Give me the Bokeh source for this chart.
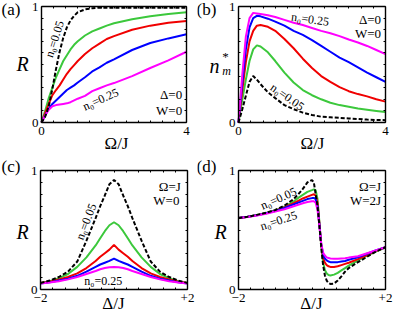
from bokeh.plotting import figure
from bokeh.models import Range1d, FixedTicker, LinearAxis, Label
from bokeh.layouts import gridplot
from bokeh.embed import file_html
from bokeh.resources import INLINE

FONT = "Liberation Serif, DejaVu Serif, serif"

# ---------------- data ----------------
omega_a = [0, 0.1, 0.2, 0.3, 0.4, 0.5, 0.6, 0.7, 0.8, 0.9, 1.0, 1.2, 1.4, 1.6, 1.8, 2.0, 2.5, 3.0, 3.5, 4.0]
R_a_black = [0, 0.05, 0.14, 0.29, 0.46, 0.61, 0.73, 0.82, 0.88, 0.92, 0.95, 0.975, 0.985, 0.99, 0.99, 0.99, 0.99, 0.99, 0.99, 0.99]
R_a_green = [0, 0.10, 0.21, 0.30, 0.39, 0.46, 0.53, 0.58, 0.63, 0.67, 0.70, 0.75, 0.785, 0.81, 0.835, 0.855, 0.89, 0.915, 0.935, 0.95]
R_a_red = [0, 0.08, 0.16, 0.235, 0.28, 0.32, 0.37, 0.42, 0.46, 0.495, 0.53, 0.59, 0.64, 0.68, 0.72, 0.745, 0.80, 0.835, 0.86, 0.875]
R_a_blue = [0, 0.06, 0.12, 0.16, 0.19, 0.22, 0.25, 0.28, 0.30, 0.32, 0.345, 0.39, 0.44, 0.475, 0.515, 0.545, 0.625, 0.685, 0.725, 0.76]
R_a_magenta = [0, 0.06, 0.11, 0.14, 0.15, 0.155, 0.16, 0.165, 0.175, 0.19, 0.205, 0.23, 0.27, 0.295, 0.32, 0.34, 0.40, 0.47, 0.535, 0.61]

omega_b = [0, 0.1, 0.2, 0.3, 0.4, 0.5, 0.6, 0.8, 1.0, 1.25, 1.5, 1.75, 2.0, 2.25, 2.5, 2.75, 3.0, 3.25, 3.5, 3.75, 4.0]
nm_b_black = [0, 0.11, 0.23, 0.35, 0.40, 0.37, 0.33, 0.26, 0.21, 0.15, 0.115, 0.085, 0.065, 0.05, 0.045, 0.04, 0.035, 0.03, 0.025, 0.022, 0.02]
nm_b_green = [0, 0.19, 0.37, 0.53, 0.63, 0.665, 0.655, 0.605, 0.53, 0.43, 0.345, 0.28, 0.235, 0.20, 0.17, 0.15, 0.135, 0.12, 0.11, 0.10, 0.09]
nm_b_red = [0, 0.27, 0.52, 0.70, 0.79, 0.835, 0.84, 0.825, 0.79, 0.72, 0.64, 0.55, 0.47, 0.40, 0.35, 0.305, 0.27, 0.245, 0.225, 0.20, 0.18]
nm_b_blue = [0, 0.33, 0.63, 0.82, 0.90, 0.92, 0.915, 0.895, 0.87, 0.835, 0.79, 0.755, 0.71, 0.66, 0.61, 0.56, 0.52, 0.475, 0.43, 0.39, 0.35]
nm_b_magenta = [0, 0.40, 0.74, 0.90, 0.945, 0.94, 0.935, 0.925, 0.91, 0.885, 0.86, 0.84, 0.815, 0.79, 0.77, 0.745, 0.715, 0.69, 0.66, 0.625, 0.59]

delta_c = [-2, -1.75, -1.5, -1.25, -1, -0.75, -0.5, -0.375, -0.25, -0.125, 0,
           0.125, 0.25, 0.375, 0.5, 0.75, 1, 1.25, 1.5, 1.75, 2]
R_c_black = [0.055, 0.075, 0.105, 0.15, 0.235, 0.41, 0.60, 0.70, 0.79, 0.885, 0.92,
             0.885, 0.79, 0.70, 0.60, 0.41, 0.235, 0.15, 0.105, 0.075, 0.055]
R_c_green = [0.055, 0.07, 0.095, 0.13, 0.19, 0.27, 0.37, 0.43, 0.49, 0.54, 0.565,
             0.54, 0.49, 0.43, 0.37, 0.27, 0.19, 0.13, 0.095, 0.07, 0.055]
R_c_red = [0.055, 0.065, 0.085, 0.105, 0.135, 0.18, 0.24, 0.275, 0.305, 0.335, 0.375,
           0.335, 0.305, 0.275, 0.24, 0.18, 0.135, 0.105, 0.085, 0.065, 0.055]
R_c_blue = [0.05, 0.06, 0.075, 0.09, 0.115, 0.15, 0.19, 0.21, 0.225, 0.24, 0.26,
            0.24, 0.225, 0.21, 0.19, 0.15, 0.115, 0.09, 0.075, 0.06, 0.05]
R_c_magenta = [0.05, 0.058, 0.07, 0.085, 0.105, 0.13, 0.155, 0.17, 0.18, 0.187, 0.19,
               0.187, 0.18, 0.17, 0.155, 0.13, 0.105, 0.085, 0.07, 0.058, 0.05]

delta_d = [-2, -1.75, -1.5, -1.25, -1, -0.75, -0.5, -0.375, -0.25, -0.125, 0, 0.05, 0.1, 0.15, 0.2,
           0.25, 0.3, 0.35, 0.4, 0.45, 0.5, 0.6, 0.7, 0.8, 0.9, 1.0, 1.25, 1.5, 1.75, 2.0]
R_d_black = [0.60, 0.612, 0.627, 0.645, 0.668, 0.705, 0.76, 0.80, 0.845, 0.90, 0.92, 0.90, 0.80, 0.70, 0.54,
             0.36, 0.21, 0.12, 0.075, 0.055, 0.047, 0.05, 0.075, 0.11, 0.15, 0.18, 0.23, 0.275, 0.32, 0.355]
R_d_green = [0.60, 0.612, 0.626, 0.643, 0.665, 0.695, 0.74, 0.77, 0.795, 0.82, 0.835, 0.842, 0.835, 0.76, 0.57,
             0.37, 0.23, 0.165, 0.135, 0.122, 0.118, 0.125, 0.14, 0.16, 0.18, 0.20, 0.245, 0.285, 0.32, 0.355]
R_d_red = [0.60, 0.612, 0.625, 0.642, 0.663, 0.69, 0.725, 0.745, 0.765, 0.78, 0.795, 0.80, 0.79, 0.73, 0.56,
           0.38, 0.27, 0.225, 0.205, 0.195, 0.19, 0.19, 0.195, 0.205, 0.215, 0.225, 0.255, 0.29, 0.325, 0.355]
R_d_blue = [0.60, 0.611, 0.623, 0.64, 0.66, 0.685, 0.715, 0.73, 0.745, 0.76, 0.768, 0.77, 0.76, 0.70, 0.55,
            0.385, 0.30, 0.26, 0.245, 0.235, 0.23, 0.228, 0.23, 0.235, 0.24, 0.25, 0.27, 0.30, 0.33, 0.355]
R_d_magenta = [0.60, 0.61, 0.621, 0.637, 0.655, 0.675, 0.70, 0.712, 0.725, 0.735, 0.742, 0.742, 0.73, 0.67, 0.54,
               0.39, 0.31, 0.285, 0.27, 0.265, 0.26, 0.258, 0.258, 0.26, 0.262, 0.268, 0.28, 0.305, 0.33, 0.355]

y_ticks = [0, 1]
y_minor = [0.1, 0.2, 0.3, 0.4, 0.5, 0.6, 0.7, 0.8, 0.9]
omega_ticks = [0, 4]
omega_minor = [1/3, 2/3, 1, 4/3, 5/3, 2, 7/3, 8/3, 3, 10/3, 11/3]
delta_ticks = [-2, 2]
delta_minor = [-5/3, -4/3, -1, -2/3, -1/3, 0, 1/3, 2/3, 1, 4/3, 5/3]
delta_tick_labels = {-2: "−2", 2: "+2"}

GREEN = "#3cc83c"
RED = "#f00000"
BLUE = "#0000ff"
MAGENTA = "#ff00ff"
BLACK = "#000000"


class Panel:
    """A figure whose plotting area is the whole canvas; the data box sits inside it."""

    def __init__(self, W, H, ox, oy, fl, fr, ft, fb, xlo, xhi, xticks, xminor, xover=None):
        self.ox, self.oy = ox, oy
        self.fl, self.fb = fl, fb
        self.xlo = xlo
        self.sx = (fr - fl) / (xhi - xlo)
        self.sy = (fb - ft)
        x0 = xlo - (fl - ox) / self.sx
        x1 = xhi + (ox + W - fr) / self.sx
        y0 = -(oy + H - fb) / self.sy
        y1 = 1 + (ft - oy) / self.sy
        p = figure(width=W, height=H, frame_width=W, frame_height=H,
                   x_range=Range1d(x0, x1), y_range=Range1d(y0, y1),
                   output_backend="svg", toolbar_location=None,
                   x_axis_type=None, y_axis_type=None, min_border=0)
        p.outline_line_color = None
        p.background_fill_color = "white"
        p.border_fill_color = "white"
        self.p = p
        self.axis("below", 0, (xlo, xhi), xticks, xminor, True, xover)
        self.axis("above", 1, (xlo, xhi), xticks, xminor, False)
        self.axis("left", xlo, (0, 1), y_ticks, y_minor, True)
        self.axis("right", xhi, (0, 1), y_ticks, y_minor, False)

    def axis(self, side, loc, bounds, ticks, minor, show, over=None):
        a = LinearAxis(ticker=FixedTicker(ticks=ticks, minor_ticks=minor),
                       fixed_location=loc, bounds=bounds,
                       major_label_text_font=FONT, major_label_text_font_size="13px",
                       major_label_text_color="black" if show else None,
                       major_label_standoff=4 if side == "below" else 3,
                       axis_line_color="black", axis_line_width=1.4,
                       major_tick_in=4, major_tick_out=0, minor_tick_in=2, minor_tick_out=0,
                       major_tick_line_color="black", minor_tick_line_color="black",
                       major_tick_line_width=1, minor_tick_line_width=1)
        if over:
            a.major_label_overrides = over
        self.p.add_layout(a, side)

    def curves(self, x, ys):
        for y, c in zip(ys[1:], [GREEN, RED, BLUE, MAGENTA]):
            self.p.line(x, y, line_color=c, line_width=2)
        self.p.line(x, ys[0], line_color=BLACK, line_width=2, line_dash="4 2")

    def text(self, px, py, text, size, align="center", style="normal", angle=0):
        # px, py: page pixels of the reference
        x = self.xlo + (px - self.fl) / self.sx
        y = (self.fb - py) / self.sy
        self.p.add_layout(Label(x=x, y=y, text=text, text_font=FONT, text_font_size=f"{size}px",
                                text_align=align, text_baseline="middle", text_font_style=style,
                                angle=angle, angle_units="deg", text_color="black"))

    def dtext(self, x, y, text, size, align="center", angle=0):
        self.p.add_layout(Label(x=x, y=y, text=text, text_font=FONT, text_font_size=f"{size}px",
                                text_align=align, text_baseline="middle",
                                angle=angle, angle_units="deg", text_color="black"))


# ---- (a)
A = Panel(197, 158, 0, 0, 41, 186, 6, 122, 0, 4, omega_ticks, omega_minor)
A.curves(omega_a, [R_a_black, R_a_green, R_a_red, R_a_blue, R_a_magenta])
A.text(1, 9, "(a)", 17, align="left")
A.text(22, 63, "R", 20, style="italic")
A.text(116, 143, "Ω/J", 17)
A.dtext(0.36, 0.72, "n₀=0.05", 12, angle=72)
A.dtext(1.63, 0.20, "n₀=0.25", 12, angle=24)
A.dtext(3.88, 0.24, "Δ=0", 13, align="right")
A.dtext(3.88, 0.10, "W=0", 13, align="right")

# ---- (b)
B = Panel(198, 158, 197, 0, 238, 385, 6, 122, 0, 4, omega_ticks, omega_minor)
B.curves(omega_b, [nm_b_black, nm_b_green, nm_b_red, nm_b_blue, nm_b_magenta])
B.text(196, 9, "(b)", 17, align="left")
B.text(214, 65, "n", 20, style="italic")
B.text(225, 56, "*", 13)
B.text(226, 70, "m", 12, style="italic")
B.text(312, 143, "Ω/J", 17)
B.dtext(1.95, 0.89, "n₀=0.25", 12, angle=-8)
B.dtext(1.33, 0.22, "n₀=0.05", 12, angle=-35)
B.dtext(3.88, 0.89, "Δ=0", 13, align="right")
B.dtext(3.88, 0.77, "W=0", 13, align="right")

# ---- (c)
C = Panel(197, 161, 0, 158, 40, 187, 170, 289, -2, 2, delta_ticks, delta_minor, delta_tick_labels)
C.curves(delta_c, [R_c_black, R_c_green, R_c_red, R_c_blue, R_c_magenta])
C.text(1, 166, "(c)", 17, align="left")
C.text(22, 231, "R", 20, style="italic")
C.text(113, 303, "Δ/J", 17)
C.dtext(-0.76, 0.57, "n₀=0.05", 12, angle=69)
C.dtext(-0.29, 0.075, "n₀=0.25", 12)
C.dtext(1.82, 0.865, "Ω=J", 13, align="right")
C.dtext(1.78, 0.75, "W=0", 13, align="right")

# ---- (d)
D = Panel(198, 161, 197, 158, 238, 385, 170, 289, -2, 2, delta_ticks, delta_minor, delta_tick_labels)
D.curves(delta_d, [R_d_black, R_d_green, R_d_red, R_d_blue, R_d_magenta])
D.text(196, 166, "(d)", 17, align="left")
D.text(220, 231, "R", 20, style="italic")
D.text(311, 303, "Δ/J", 17)
D.dtext(-0.91, 0.765, "n₀=0.05", 12, angle=24)
D.dtext(-0.91, 0.58, "n₀=0.25", 12, angle=18)
D.dtext(1.88, 0.865, "Ω=J", 13, align="right")
D.dtext(1.88, 0.75, "W=2J", 13, align="right")

grid = gridplot([[A.p, B.p], [C.p, D.p]], toolbar_location=None)

open("out.html", "w").write(file_html(grid, INLINE))
